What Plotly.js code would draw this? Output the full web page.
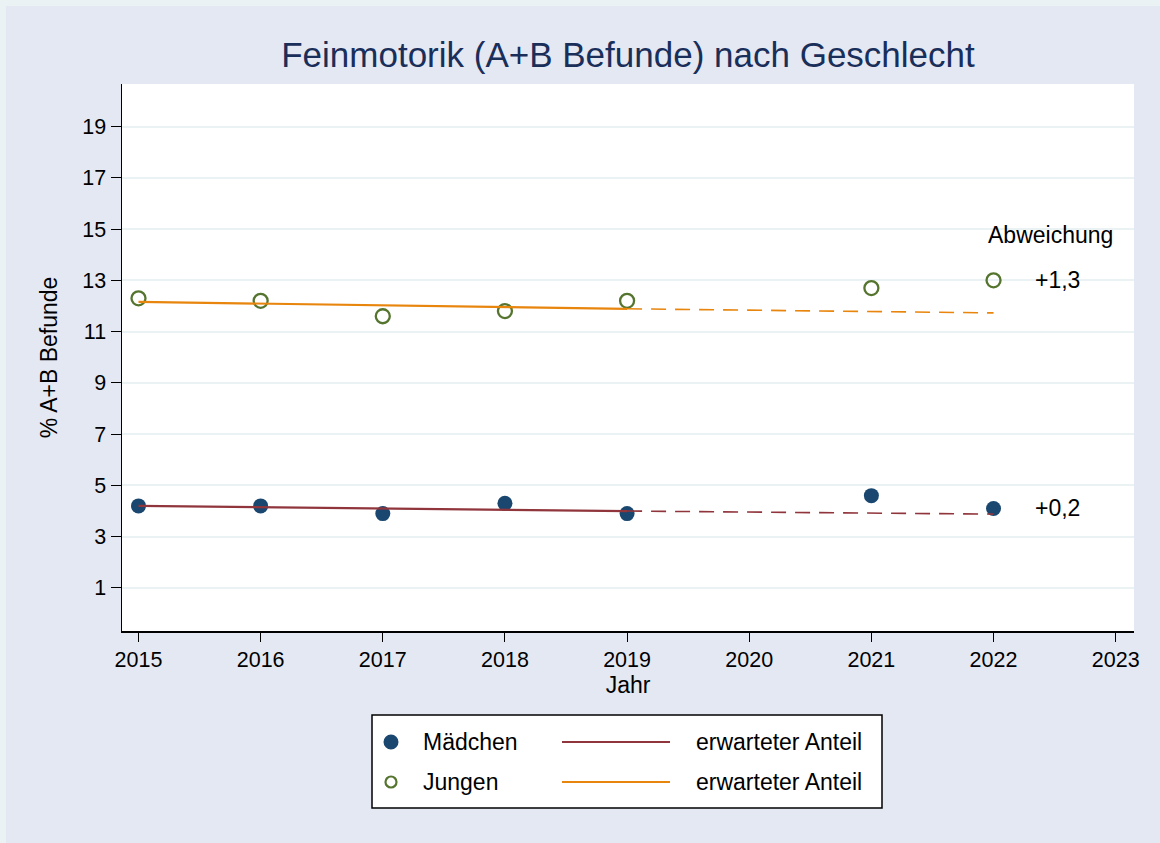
<!DOCTYPE html>
<html>
<head>
<meta charset="utf-8">
<script src="https://cdn.plot.ly/plotly-3.0.1.min.js"></script>
<style>
  html, body { margin: 0; padding: 0; background: #eaf2f3; width: 1160px; height: 843px; overflow: hidden; }
  #chart { position: absolute; left: 6px; top: 6px; width: 1154px; height: 837px; }
</style>
</head>
<body>
<div id="chart"></div>
<script>
// ---- data ----
const years = [2015, 2016, 2017, 2018, 2019, 2021, 2022];
const maedchen = [4.2, 4.2, 3.9, 4.3, 3.9, 4.6, 4.1];
const jungen = [12.3, 12.2, 11.6, 11.8, 12.2, 12.7, 13.0];

const trendYearsSolid = [2015, 2019];
const trendYearsDashed = [2019, 2022];
const maedchenTrendSolid = [4.2, 4.0];
const maedchenTrendDashed = [4.0, 3.88];
const jungenTrendSolid = [12.16, 11.89];
const jungenTrendDashed = [11.89, 11.73];

const yTicks = [1, 3, 5, 7, 9, 11, 13, 15, 17, 19];
const xTicks = [2015, 2016, 2017, 2018, 2019, 2020, 2021, 2022, 2023];

const deviationYear = 2022;
const deviationLabels = ['+1,3', '+0,2'];
const deviationValues = [13.0, 4.1];
const deviationHeader = 'Abweichung';

const legendLabels = ['Mädchen', 'erwarteter Anteil', 'Jungen', 'erwarteter Anteil'];

// ---- styles ----
const navy = '#1a476f';
const maroon = '#90353b';
const green = '#55752f';
const orange = '#e8850c';
const font = 'Liberation Sans, Arial, sans-serif';
const TXT = 23;
const TICK = 21.5;

const traces = [
  { x: years, y: maedchen, mode: 'markers', type: 'scatter', name: 'Mädchen',
    marker: { color: navy, size: 15, line: { width: 0 } }, showlegend: false },
  { x: years, y: jungen, mode: 'markers', type: 'scatter', name: 'Jungen',
    marker: { symbol: 'circle-open', color: green, size: 14, line: { width: 2.3, color: green } }, showlegend: false },
  { x: trendYearsSolid, y: maedchenTrendSolid, mode: 'lines', type: 'scatter',
    line: { color: maroon, width: 2.2 }, showlegend: false },
  { x: trendYearsDashed, y: maedchenTrendDashed, mode: 'lines', type: 'scatter',
    line: { color: maroon, width: 1.6, dash: '15px,9px' }, showlegend: false },
  { x: trendYearsSolid, y: jungenTrendSolid, mode: 'lines', type: 'scatter',
    line: { color: orange, width: 2.2 }, showlegend: false },
  { x: trendYearsDashed, y: jungenTrendDashed, mode: 'lines', type: 'scatter',
    line: { color: orange, width: 1.6, dash: '15px,9px' }, showlegend: false }
];

// plot area in page pixels
const PL = 122, PR = 1134, PT = 84, PB = 631;
const px = v => (v - PL) / (PR - PL);
const py = v => (PB - v) / (PB - PT);

const shapes = [
  { type: 'rect', xref: 'paper', yref: 'paper', x0: px(372), x1: px(882), y0: py(808), y1: py(715),
    fillcolor: '#ffffff', line: { color: '#000000', width: 1.5 }, layer: 'above' },
  { type: 'line', xref: 'paper', yref: 'paper', x0: px(562), x1: px(670), y0: py(742), y1: py(742),
    line: { color: maroon, width: 2.2 } },
  { type: 'line', xref: 'paper', yref: 'paper', x0: px(562), x1: px(670), y0: py(782), y1: py(782),
    line: { color: orange, width: 2.2 } },
  { type: 'circle', xref: 'paper', yref: 'paper', xsizemode: 'pixel', ysizemode: 'pixel',
    xanchor: px(391), yanchor: py(742), x0: -7.5, x1: 7.5, y0: -7.5, y1: 7.5,
    fillcolor: navy, line: { width: 0 } },
  { type: 'circle', xref: 'paper', yref: 'paper', xsizemode: 'pixel', ysizemode: 'pixel',
    xanchor: px(391), yanchor: py(782), x0: -5.5, x1: 5.5, y0: -5.5, y1: 5.5,
    fillcolor: 'rgba(0,0,0,0)', line: { color: green, width: 2.2 } }
];

const legendPos = [[421, 742], [694, 742], [421, 782], [694, 782]];
const annotations = legendLabels.map((t, i) => ({
  text: t, xref: 'paper', yref: 'paper', x: px(legendPos[i][0]), y: py(legendPos[i][1]),
  xanchor: 'left', yanchor: 'middle', showarrow: false,
  font: { family: font, size: TXT, color: '#000000' }
}));

annotations.push({
  text: deviationHeader, x: 2022.47, y: 14.75, xref: 'x', yref: 'y',
  xanchor: 'center', yanchor: 'middle', showarrow: false,
  font: { family: font, size: TXT, color: '#000000' }
});
deviationLabels.forEach((t, i) => {
  annotations.push({
    text: t, x: deviationYear + 0.32, y: deviationValues[i], xref: 'x', yref: 'y',
    xanchor: 'left', yanchor: 'middle', showarrow: false,
    font: { family: font, size: TXT, color: '#000000' }
  });
});

const layout = {
  width: 1154, height: 837,
  margin: { l: PL - 6, r: 1160 - PR, t: PT - 6, b: 843 - PB, pad: 0 },
  paper_bgcolor: '#e4e8f3',
  plot_bgcolor: '#ffffff',
  font: { family: font, color: '#000000', size: TICK },
  title: {
    text: 'Feinmotorik (A+B Befunde) nach Geschlecht',
    font: { family: font, size: 35, color: '#1a2e5a' },
    x: 0.5, xref: 'paper', xanchor: 'center',
    y: 1 - 49 / 837, yref: 'container', yanchor: 'middle'
  },
  xaxis: {
    range: [2014.865, 2023.15],
    tickvals: xTicks, ticktext: xTicks.map(String),
    ticks: 'outside', ticklen: 9, tickwidth: 1, tickcolor: '#000000',
    showline: true, linecolor: '#000000', linewidth: 1.5,
    showgrid: false, zeroline: false,
    tickfont: { family: font, size: TICK, color: '#000000' },
    title: { text: 'Jahr', font: { family: font, size: TXT, color: '#000000' }, standoff: 0 }
  },
  yaxis: {
    range: [-0.68, 20.66],
    tickvals: yTicks, ticktext: yTicks.map(String),
    ticks: 'outside', ticklen: 10, tickwidth: 1, tickcolor: '#000000',
    showline: true, linecolor: '#000000', linewidth: 1.5,
    showgrid: true, gridcolor: '#eaf2f3', gridwidth: 2,
    zeroline: false,
    tickfont: { family: font, size: TICK, color: '#000000' },
    title: { text: '% A+B Befunde', font: { family: font, size: TXT, color: '#000000' }, standoff: 18 }
  },
  shapes: shapes,
  annotations: annotations,
  showlegend: false
};

Plotly.newPlot('chart', traces, layout, { displayModeBar: false, staticPlot: true });
</script>
</body>
</html>
